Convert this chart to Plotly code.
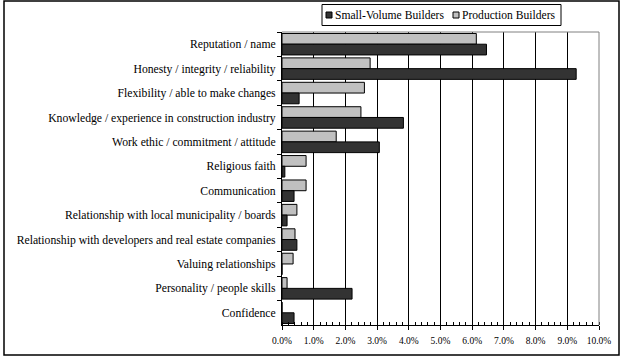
import plotly.graph_objects as go

categories = [
    "Reputation / name",
    "Honesty / integrity / reliability",
    "Flexibility / able to make changes",
    "Knowledge / experience in construction industry",
    "Work ethic / commitment / attitude",
    "Religious faith",
    "Communication",
    "Relationship with local municipality / boards",
    "Relationship with developers and real estate companies",
    "Valuing relationships",
    "Personality / people skills",
    "Confidence",
]
small_volume = [6.45, 9.28, 0.54, 3.83, 3.07, 0.09, 0.38, 0.16, 0.47, 0.0, 2.21, 0.38]
production = [6.13, 2.78, 2.60, 2.49, 1.71, 0.76, 0.76, 0.47, 0.41, 0.35, 0.16, 0.0]
x_ticks = [0, 1, 2, 3, 4, 5, 6, 7, 8, 9, 10]
x_tick_labels = ["0.0%", "1.0%", "2.0%", "3.0%", "4.0%", "5.0%", "6.0%", "7.0%", "8.0%", "9.0%", "10.0%"]
series_names = ["Small-Volume Builders", "Production Builders"]
series_colors = ["#333333", "#c0c0c0"]

FONT = "Liberation Serif, Times New Roman, serif"

fig = go.Figure()
fig.add_trace(go.Bar(
    y=categories, x=production, orientation="h", name=series_names[1],
    marker=dict(color=series_colors[1], line=dict(color="black", width=1)),
))
fig.add_trace(go.Bar(
    y=categories, x=small_volume, orientation="h", name=series_names[0],
    marker=dict(color=series_colors[0], line=dict(color="black", width=1)),
))

W, H = 624, 360
L, R, T, B = 282, 25, 32, 35
pw, ph = W - L - R, H - T - B

def px(xp):
    return (xp - L) / pw

def py(yp):
    return (H - B - yp) / ph

shapes = [
    # plot area border (grey, top and right)
    dict(type="line", xref="paper", yref="paper", x0=1, x1=1, y0=0, y1=1,
         line=dict(color="#808080", width=1)),
    dict(type="line", xref="paper", yref="paper", x0=0, x1=1, y0=1, y1=1,
         line=dict(color="#808080", width=1)),
    # outer chart frame
    dict(type="rect", xref="paper", yref="paper",
         x0=px(4), x1=px(619), y0=py(355), y1=py(1),
         line=dict(color="black", width=1.5)),
    # legend box
    dict(type="rect", xref="paper", yref="paper",
         x0=px(322), x1=px(561), y0=py(25.5), y1=py(4.5),
         line=dict(color="black", width=1), fillcolor="white"),
]
annotations = []
legend_square_x = [326, 453]
legend_text_x = [333, 460]
for name, color, sx, tx in zip(series_names, series_colors, legend_square_x, legend_text_x):
    shapes.append(dict(type="rect", xref="paper", yref="paper",
                       x0=px(sx), x1=px(sx + 6), y0=py(18), y1=py(12),
                       line=dict(color="black", width=1), fillcolor=color))
    annotations.append(dict(xref="paper", yref="paper", x=px(tx), y=py(15),
                            xanchor="left", yanchor="middle", showarrow=False,
                            text=name, font=dict(family=FONT, size=11.6, color="black")))

fig.update_layout(
    width=W, height=H,
    margin=dict(l=L, r=R, t=T, b=B, autoexpand=False),
    paper_bgcolor="white", plot_bgcolor="white",
    barmode="group", bargap=0.12, bargroupgap=0,
    font=dict(family=FONT, size=11.7, color="black"),
    showlegend=False,
    xaxis=dict(
        range=[0, 10], tickvals=x_ticks, ticktext=x_tick_labels,
        showgrid=True, gridcolor="black", gridwidth=1,
        showline=True, linecolor="black", linewidth=1,
        ticks="outside", ticklen=4, tickcolor="black", ticklabelstandoff=3,
        tickfont=dict(family=FONT, size=9.5, color="black"),
        minor=dict(dtick=0.2, ticks="inside", ticklen=3, tickcolor="black", showgrid=False),
        zeroline=False, fixedrange=True, automargin=False,
    ),
    yaxis=dict(
        autorange="reversed", type="category",
        showline=True, linecolor="black", linewidth=1,
        ticks="outside", ticklen=4, tickcolor="black", tickson="boundaries",
        showgrid=False, ticklabelstandoff=3,
        tickfont=dict(family=FONT, size=11.7, color="black"),
        fixedrange=True, automargin=False,
    ),
    shapes=shapes,
    annotations=annotations,
)

fig.write_html(
    "out.html",
    config={"displayModeBar": False},
    post_script="document.body.style.margin='0';document.body.style.overflow='hidden';",
)
